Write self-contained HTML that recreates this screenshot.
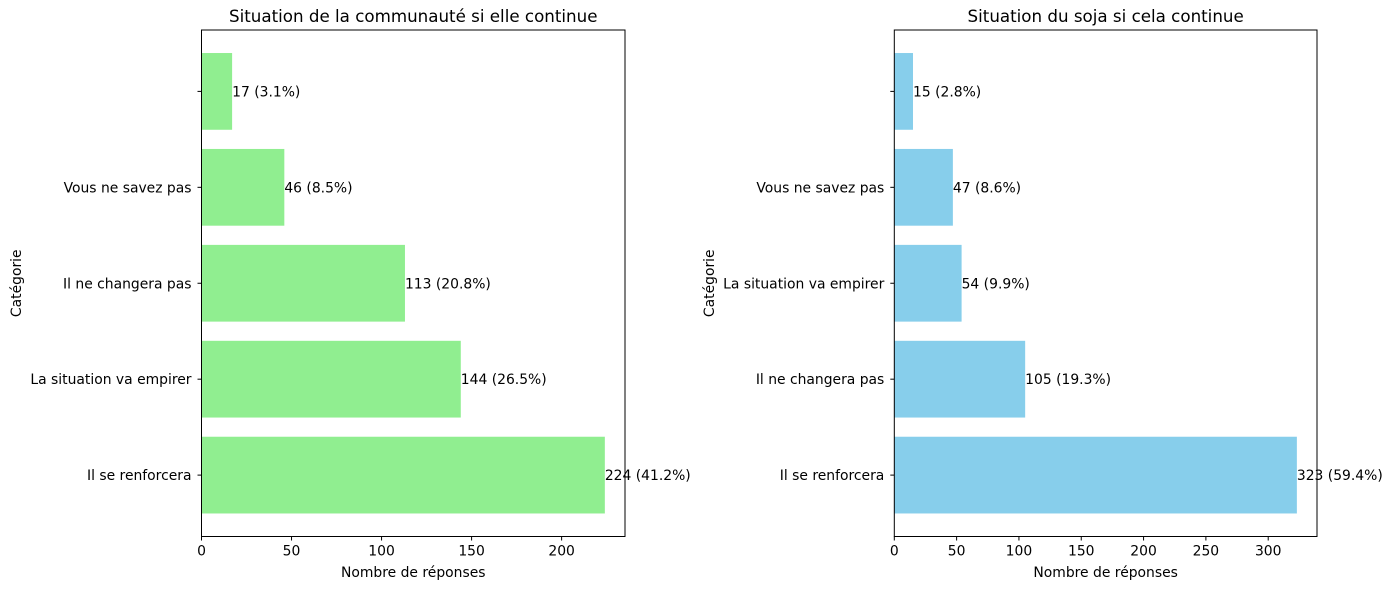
<!DOCTYPE html>
<html><head><meta charset="utf-8"><style>
html,body{margin:0;padding:0;background:#fff;}
svg{display:block;font-family:"DejaVu Sans","Liberation Sans",sans-serif;}
</style></head><body>
<svg id="chart" width="1393" height="590" xmlns="http://www.w3.org/2000/svg"></svg>
<script>
const leftCategories = ["Il se renforcera","La situation va empirer","Il ne changera pas","Vous ne savez pas",""];
const leftValues = [224,144,113,46,17];
const leftPercents = ["41.2%","26.5%","20.8%","8.5%","3.1%"];
const leftTicks = [0,50,100,150,200];
const rightCategories = ["Il se renforcera","Il ne changera pas","La situation va empirer","Vous ne savez pas",""];
const rightValues = [323,105,54,47,15];
const rightPercents = ["59.4%","19.3%","9.9%","8.6%","2.8%"];
const rightTicks = [0,50,100,150,200,250,300];

const NS="http://www.w3.org/2000/svg";
const svg=document.getElementById('chart');
const FS=13.9;
function mk(tag,attrs,parent){const e=document.createElementNS(NS,tag);for(const k in attrs)e.setAttribute(k,attrs[k]);(parent||svg).appendChild(e);return e;}

function panel(name,x0,x1,cats,vals,pcts,ticks,color,title){
  const top=30,bot=536.5;
  const g=mk('g',{});
  
  
  const maxV=Math.max(...vals)*1.05;
  const sx=v=>x0+v*(x1-x0)/maxV;
  const n=cats.length;
  const lo=-0.64,hi=(n-1)+0.64;
  const sy=i=>bot-(i-lo)*(bot-top)/(hi-lo);
  const bh=0.8*(bot-top)/(hi-lo);
  vals.forEach((v,i)=>{
    const r=mk('rect',{x:sx(0),y:sy(i)-bh/2,width:sx(v)-sx(0),height:bh,fill:color},g);
    
    
    const t=mk('text',{x:sx(v),y:sy(i)+5,'font-size':FS,fill:'#000'},g);
    
    
    t.textContent=v+' ('+pcts[i]+')';
    mk('line',{x1:x0-4,x2:x0,y1:sy(i),y2:sy(i),stroke:'#000','stroke-width':1},g);
    const c=mk('text',{x:x0-10,y:sy(i)+5,'font-size':FS,'text-anchor':'end'},g);
    
    
    c.textContent=cats[i];
  });
  ticks.forEach(tv=>{
    mk('line',{x1:sx(tv),x2:sx(tv),y1:bot,y2:bot+4,stroke:'#000'},g);
    const t=mk('text',{x:sx(tv),y:bot+19,'font-size':FS,'text-anchor':'middle'},g);
    
    
    t.textContent=tv;
  });
  const fr=mk('rect',{x:x0,y:top,width:x1-x0,height:bot-top,fill:'none',stroke:'#000','stroke-width':1},g);
  
  
  const xl=mk('text',{x:(x0+x1)/2,y:577,'font-size':FS,'text-anchor':'middle'},g);
  
  
  xl.textContent='Nombre de réponses';
  const yx=name==='left-panel'?21:714;
  const yl=mk('text',{x:yx,y:(top+bot)/2,'font-size':FS,'text-anchor':'middle',transform:'rotate(-90 '+yx+' '+((top+bot)/2)+')'},g);
  
  
  yl.textContent='Catégorie';
  const tt=mk('text',{x:(x0+x1)/2,y:22,'font-size':16.7,'text-anchor':'middle'},g);
  
  
  tt.textContent=title;
}
panel('left-panel',201.5,625,leftCategories,leftValues,leftPercents,leftTicks,'#90ee90','Situation de la communauté si elle continue');
panel('right-panel',894.3,1317,rightCategories,rightValues,rightPercents,rightTicks,'#87ceeb','Situation du soja si cela continue');
</script>
</body></html>
